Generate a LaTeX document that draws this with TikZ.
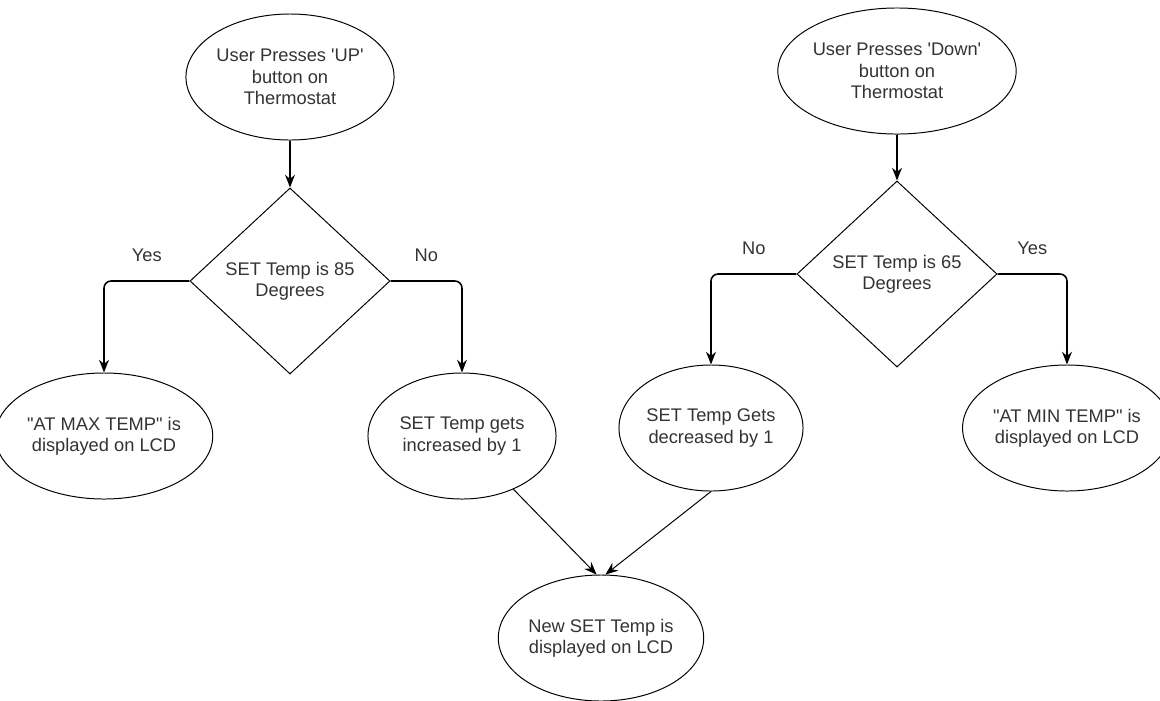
\documentclass[tikz,border=0pt]{standalone}
\usepackage{fontspec}
\newfontfamily\chartfont{Liberation Sans}
\usetikzlibrary{positioning,shapes.geometric,arrows.meta}

\begin{document}
\begin{tikzpicture}[
    x=0.025cm, y=-0.025cm,
    font=\chartfont\fontsize{13}{15.2}\selectfont,
    bubble/.style={draw, ellipse, line width=0.7pt, inner sep=0pt,
      minimum width=4.7cm, minimum height=3.15cm, align=center, text=black!80},
    check/.style={draw, diamond, line width=0.7pt, inner sep=0pt,
      minimum width=5cm, minimum height=4.65cm, align=center, text=black!80},
    flow/.style={line width=1.1pt, rounded corners=5pt,
      -{Stealth[length=9pt,width=7pt]}},
    merge/.style={line width=0.7pt, -{Stealth[length=9pt,width=7pt]}},
    answer/.style={text=black!80}
  ]
  \useasboundingbox (0,0) rectangle (1160,700);
  % up button
  \node [bubble] at (290,77) (upstart)
    {User Presses 'UP'\\button on\\Thermostat};
  \node [check] at (290,281) (upcheck)
    {SET Temp is 85\\Degrees};
  \node [bubble] at (104,436) (maxmsg)
    {"AT MAX TEMP" is\\displayed on LCD};
  \node [bubble] at (462,436) (incmsg)
    {SET Temp gets\\increased by 1};
  % down button
  \node [bubble] at (897,71) (downstart)
    {User Presses 'Down'\\button on\\Thermostat};
  \node [check] at (897,274) (downcheck)
    {SET Temp is 65\\Degrees};
  \node [bubble, minimum width=4.6cm] at (711,428) (decmsg)
    {SET Temp Gets\\decreased by 1};
  \node [bubble, minimum width=4.6cm] at (1067,428) (minmsg)
    {"AT MIN TEMP" is\\displayed on LCD};
  % result
  \node [bubble] at (601,638) (newtemp)
    {New SET Temp is\\displayed on LCD};
  % up branches
  \draw [flow] (upstart) -- (upcheck);
  \draw [flow]
    (upcheck.west)
    -| (maxmsg.north)
      node [answer, pos=0.25, above=10pt] (upyes) {Yes}
  ;
  \draw [flow]
    (upcheck.east)
    -| (incmsg.north)
      node [answer, pos=0.25, above=10pt] (upno) {No}
  ;
  % down branches
  \draw [flow] (downstart) -- (downcheck);
  \draw [flow]
    (downcheck.west)
    -| (decmsg.north)
      node [answer, pos=0.25, above=10pt] (downno) {No}
  ;
  \draw [flow]
    (downcheck.east)
    -| (minmsg.north)
      node [answer, pos=0.25, above=10pt] (downyes) {Yes}
  ;
  % merge
  \draw [merge] (incmsg.-46) -- (newtemp.94);
  \draw [merge] (decmsg.south) -- (newtemp.86);
\end{tikzpicture}
\end{document}
